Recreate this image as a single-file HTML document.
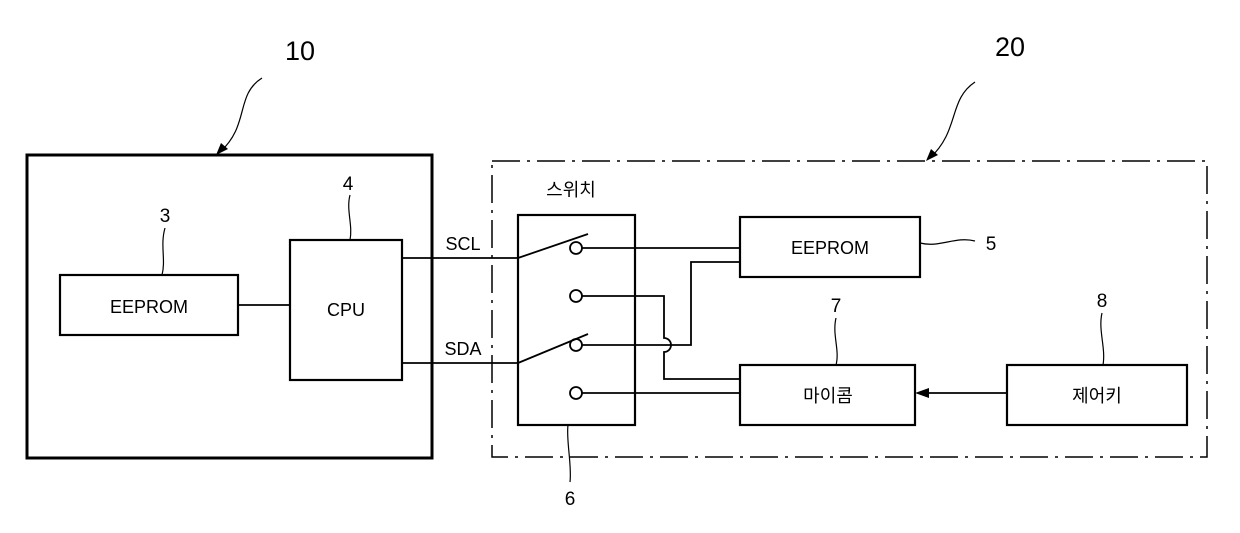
<!DOCTYPE html>
<html><head><meta charset="utf-8"><style>
html,body{margin:0;padding:0;background:#fff;}
svg{display:block}
text{font-family:"Liberation Sans","Noto Sans CJK KR",sans-serif;fill:#000}
</style></head><body>
<svg width="1240" height="533" viewBox="0 0 1240 533" xmlns="http://www.w3.org/2000/svg">
<g fill="none" stroke="#000">
<rect x="27" y="155" width="405" height="303" stroke-width="3"/>
<rect x="492" y="161" width="715" height="296" stroke-width="1.5" stroke-dasharray="28,7,3,7"/>
<g stroke-width="2.2">
<rect x="60" y="275" width="178" height="60"/>
<rect x="290" y="240" width="112" height="140"/>
<rect x="518" y="215" width="117" height="210"/>
<rect x="740" y="217" width="180" height="60"/>
<rect x="740" y="365" width="175" height="60"/>
<rect x="1007" y="365" width="180" height="60"/>
</g>
<g stroke-width="1.8">
<line x1="238" y1="305" x2="290" y2="305"/>
<line x1="402" y1="258" x2="518" y2="258"/>
<line x1="402" y1="363" x2="518" y2="363"/>
<line x1="518" y1="258" x2="588" y2="234"/>
<line x1="518" y1="363" x2="588" y2="334"/>
<circle cx="576" cy="248" r="6"/>
<circle cx="576" cy="296" r="6"/>
<circle cx="576" cy="345" r="6"/>
<circle cx="576" cy="393" r="6"/>
<line x1="582" y1="248" x2="740" y2="248"/>
<polyline points="582,345 691,345 691,262 740,262"/>
<path d="M582,296 H664 V338 A7,7 0 0 1 664,352 V379 H740"/>
<line x1="582" y1="393" x2="740" y2="393"/>
<line x1="1007" y1="393" x2="928" y2="393"/>
</g>
<g stroke-width="1.2">
<path d="M165,228 C160,245 166,260 162,275"/>
<path d="M350,195 C346,210 353,225 350,240"/>
<path d="M920,243 C940,248 955,236 975,241"/>
<path d="M836,318 C832,335 840,350 836,365"/>
<path d="M1102,313 C1098,330 1106,348 1103,365"/>
<path d="M570,482 C572,465 566,440 568,425"/>
<path d="M262,78 C235,95 250,125 220,152"/>
<path d="M975,82 C948,100 960,130 930,158"/>
</g>
</g>
<polygon points="915,393 929,388 929,398" fill="#000"/>
<polygon points="216,155 221,143 228,149" fill="#000"/>
<polygon points="926,161 931,149 938,155" fill="#000"/>
<g font-size="18" text-anchor="middle">
<text x="149" y="313">EEPROM</text>
<text x="346" y="316">CPU</text>
<text x="830" y="254">EEPROM</text>
<text x="828" y="402">마이콤</text>
<text x="1097" y="402">제어키</text>
<text x="463" y="250">SCL</text>
<text x="463" y="355">SDA</text>
<text x="571" y="196">스위치</text>
<text x="165" y="222" font-size="19">3</text>
<text x="348" y="190" font-size="19">4</text>
<text x="991" y="250" font-size="19">5</text>
<text x="836" y="312" font-size="19">7</text>
<text x="1102" y="307" font-size="19">8</text>
<text x="570" y="505" font-size="19">6</text>
<text x="300" y="60" font-size="27">10</text>
<text x="1010" y="56" font-size="27">20</text>
</g>
</svg>
</body></html>
